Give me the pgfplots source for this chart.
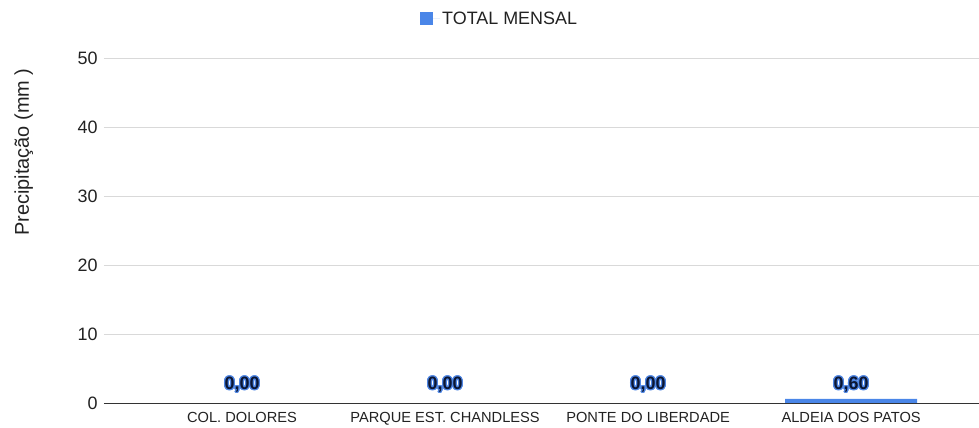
\documentclass[border=0pt]{standalone}
\usepackage{fontspec}
\setmainfont{Liberation Sans}
\usepackage{pgfplots}
\pgfplotsset{compat=1.18}
\usepackage{contour}
\contourlength{1.3pt}
\definecolor{barblue}{HTML}{4A86E8}
\definecolor{halo}{HTML}{4F86E3}
\definecolor{navy}{HTML}{0B1633}
\definecolor{gridc}{HTML}{D9D9D9}
\definecolor{basec}{HTML}{333333}
\definecolor{txt}{HTML}{222222}
\begin{document}
\begin{tikzpicture}
\useasboundingbox (-104bp,-25bp) rectangle (875bp,403bp);
\begin{axis}[
  scale only axis,
  width=875bp, height=345bp,
  at={(0,0)}, anchor=south west,
  xmin=-0.68, xmax=3.63,
  ymin=0, ymax=50,
  ytick={0,10,20,30,40,50},
  xtick={0,1,2,3},
  xticklabels={COL. DOLORES, PARQUE EST. CHANDLESS, PONTE DO LIBERDADE, ALDEIA DOS PATOS},
  axis line style={draw=none},
  axis x line*=bottom,
  axis y line*=left,
  major tick length=0pt,
  ymajorgrids,
  grid style={gridc, line width=0.8bp},
  /pgf/number format/assume math mode=true,
  yticklabel style={font=\fontsize{18}{21}\selectfont, text=txt, xshift=-3bp},
  xticklabel style={font=\fontsize{14.7}{17}\selectfont, text=txt, yshift=-6bp},
  ylabel={Precipitação (mm )},
  every axis y label/.style={at={(-75bp,251bp)}, rotate=90, anchor=base,
    font=\fontsize{20}{23}\selectfont, text=txt},
  legend style={at={(316bp,384bp)}, anchor=west, draw=none, fill=none, inner sep=0pt,
    font=\fontsize{18}{21}\selectfont, text=txt, legend cell align=left},
  legend image code/.code={\fill[barblue] (0bp,-6.5bp) rectangle (13bp,6.5bp);
    \path (0bp,0bp) -- (20bp,0bp);},
  clip=false,
]
\addplot[ybar, bar width=0.65, fill=barblue, draw=none,
  visualization depends on={y \as \rawy},
  nodes near coords={\contour{halo}{\textcolor{navy}{\bfseries\pgfmathprintnumber[fixed, fixed zerofill, precision=2, use comma]{\pgfplotspointmeta}}}},
  every node near coord/.style={anchor=base, yshift={13.5bp-6.9bp*\rawy}, font=\fontsize{18}{21}\selectfont},
  point meta=y]
  coordinates {(0,0) (1,0) (2,0) (3,0.6)};
\addlegendentry{TOTAL MENSAL}
\draw[basec, line width=1bp] (axis cs:-0.68,0) -- (axis cs:3.63,0);
\end{axis}
\end{tikzpicture}
\end{document}
